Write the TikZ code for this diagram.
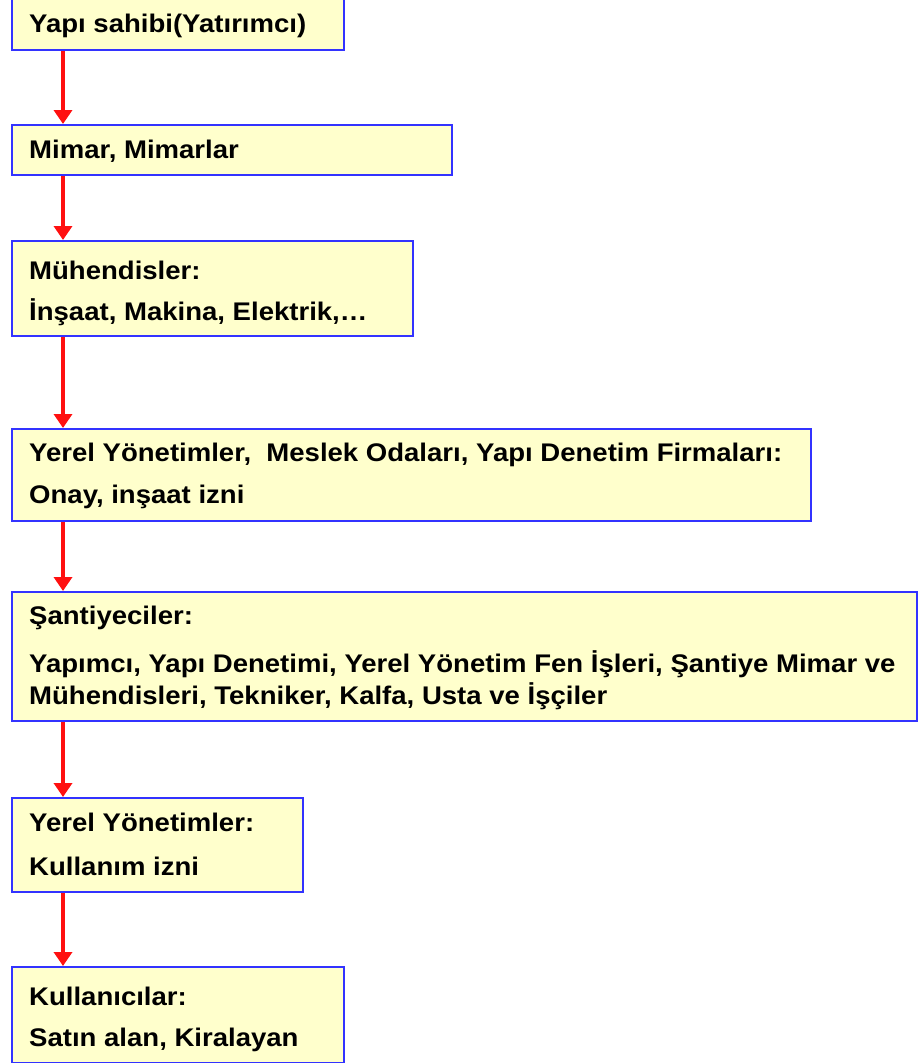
\documentclass[tikz,border=0pt]{standalone}
\usepackage{fontspec}
\setmainfont{Liberation Sans}
\usetikzlibrary{arrows.meta}
\definecolor{boxfill}{HTML}{FFFFCC}
\definecolor{boxline}{HTML}{3333FF}
\definecolor{arrred}{HTML}{FF1010}
\newcommand{\wtxt}[1]{\scalebox{1.08}[1]{#1}}
\begin{document}
\begin{tikzpicture}[x=1pt,y=-1pt,
  box/.style={draw=boxline,fill=boxfill,line width=2pt,rectangle,inner sep=0pt,anchor=north west},
  txt/.style={anchor=base west,inner sep=0pt,font=\fontsize{25.5}{25.5}\selectfont\bfseries},
  arr/.style={draw=arrred,line width=3.5pt,-{Triangle[width=18pt,length=14pt]}}]
\useasboundingbox (0,0) rectangle (918,1063);
\node[box,minimum width=332pt,minimum height=60pt] (b1) at (11,-11) {};
\node[box,minimum width=440pt,minimum height=50pt] (b2) at (11,124) {};
\node[box,minimum width=401pt,minimum height=95pt] (b3) at (11,240) {};
\node[box,minimum width=799pt,minimum height=92pt] (b4) at (11,428) {};
\node[box,minimum width=905pt,minimum height=129pt] (b5) at (11,591) {};
\node[box,minimum width=291pt,minimum height=94pt] (b6) at (11,797) {};
\node[box,minimum width=332pt,minimum height=96pt] (b7) at (11,966) {};
\node[txt] (t1) at (29,32) {\wtxt{Yapı sahibi(Yatırımcı)}};
\node[txt] (t2) at (29,158) {\wtxt{Mimar, Mimarlar}};
\node[txt] (t3a) at (29,279) {\wtxt{Mühendisler:}};
\node[txt] (t3b) at (29,320) {\wtxt{İnşaat, Makina, Elektrik,…}};
\node[txt] (t4a) at (29,461) {\wtxt{Yerel Yönetimler,\ \ Meslek Odaları, Yapı Denetim Firmaları:}};
\node[txt] (t4b) at (29,503) {\wtxt{Onay, inşaat izni}};
\node[txt] (t5a) at (29,624) {\wtxt{Şantiyeciler:}};
\node[txt] (t5b) at (29,672) {\wtxt{Yapımcı, Yapı Denetimi, Yerel Yönetim Fen İşleri, Şantiye Mimar ve}};
\node[txt] (t5c) at (29,704) {\wtxt{Mühendisleri, Tekniker, Kalfa, Usta ve İşçiler}};
\node[txt] (t6a) at (29,831) {\wtxt{Yerel Yönetimler:}};
\node[txt] (t6b) at (29,875) {\wtxt{Kullanım izni}};
\node[txt] (t7a) at (29,1005) {\wtxt{Kullanıcılar:}};
\node[txt] (t7b) at (29,1046) {\wtxt{Satın alan, Kiralayan}};
\foreach \a/\b in {b1/b2,b2/b3,b3/b4,b4/b5,b5/b6,b6/b7}
  \draw[arr] ([xshift=52pt]\a.south west) -- ([xshift=52pt]\b.north west);
\end{tikzpicture}
\end{document}
